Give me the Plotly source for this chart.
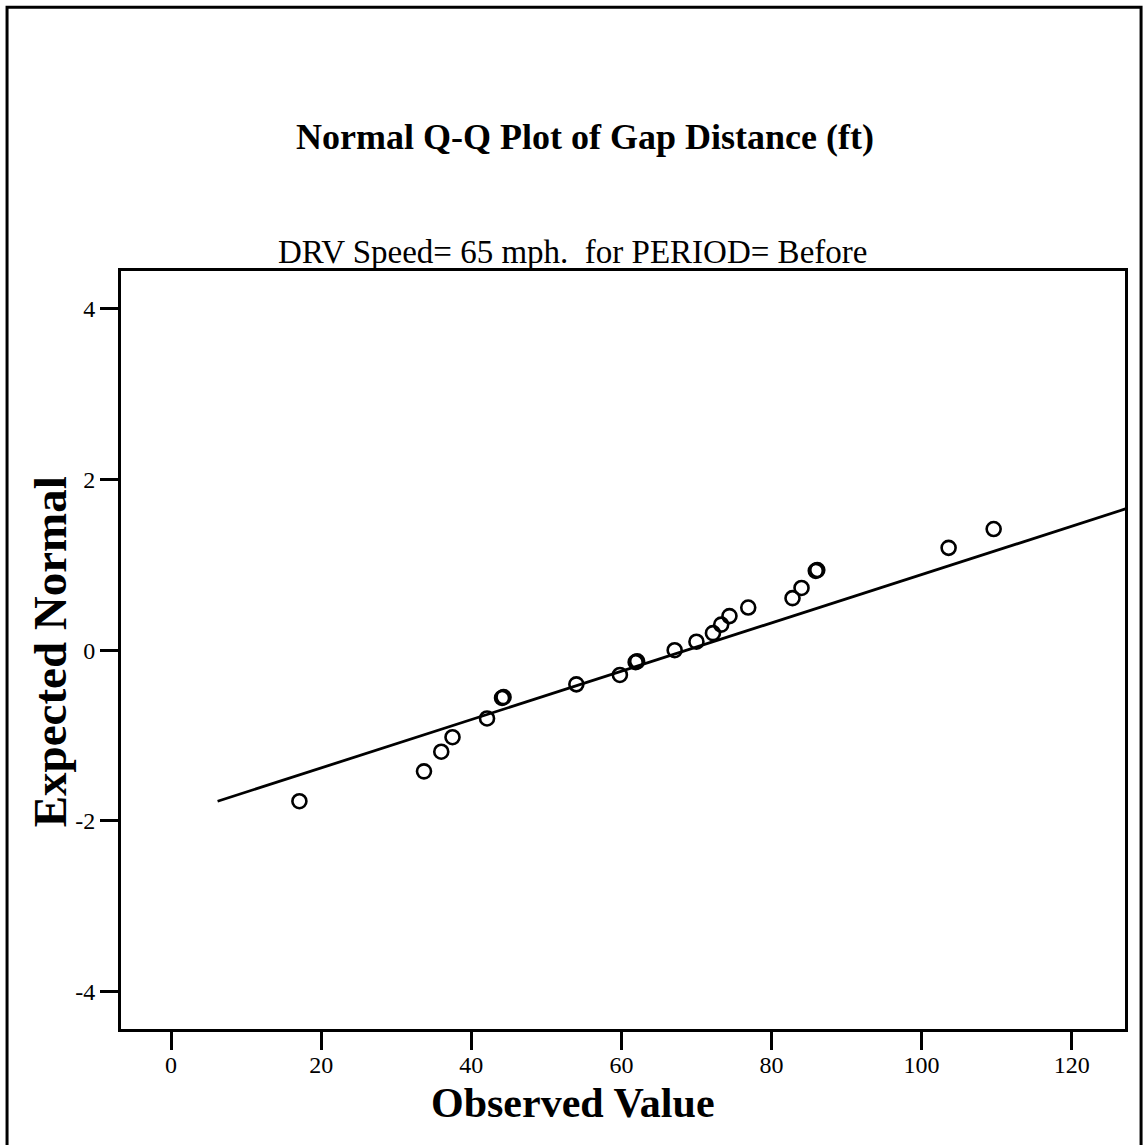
import plotly.graph_objects as go

# Observed gap distances (ft) and their expected normal scores
observed = [17.1, 33.7, 36.0, 37.5, 42.1, 44.1, 44.3, 54.0, 59.8, 61.9, 62.1,
            67.1, 70.0, 72.2, 73.3, 74.4, 76.9, 82.8, 84.0, 85.9, 86.1, 103.6, 109.6]
expected = [-1.77, -1.42, -1.19, -1.02, -0.80, -0.56, -0.55, -0.40, -0.29, -0.14, -0.13,
            0.00, 0.10, 0.20, 0.30, 0.40, 0.50, 0.61, 0.73, 0.93, 0.94, 1.20, 1.42]

# Reference normal line: expected = (x - mean) / sd
line_mean = 68.7
line_sd = 35.3
line_x = [6.2, 127.2]
line_y = [(v - line_mean) / line_sd for v in line_x]

x_ticks = [0, 20, 40, 60, 80, 100, 120]
y_ticks = [-4, -2, 0, 2, 4]
y_tick_labels = ["-4", "-2", "0", "2", "4"]

title_text = "Normal Q-Q Plot of Gap Distance (ft)"
subtitle_text = "DRV Speed= 65 mph.  for PERIOD= Before"

SERIF = "Liberation Serif, Times New Roman, serif"

fig = go.Figure()
fig.add_trace(go.Scatter(
    x=line_x, y=line_y, mode="lines",
    line=dict(color="black", width=2.8),
    hoverinfo="skip", showlegend=False, cliponaxis=False,
))
fig.add_trace(go.Scatter(
    x=observed, y=expected, mode="markers",
    marker=dict(symbol="circle-open", size=14, color="black",
                line=dict(color="black", width=2.6)),
    showlegend=False,
))

axis_common = dict(
    showgrid=False, zeroline=False, showline=True, linecolor="black",
    linewidth=3, mirror=True, ticks="outside", ticklen=18, tickwidth=3,
    tickcolor="black", tickfont=dict(family=SERIF, size=24, color="black"),
)

fig.update_xaxes(range=[-6.67, 127.1], tickvals=x_ticks, ticklabelstandoff=-6,
                 **axis_common)
fig.update_yaxes(range=[-4.44, 4.445], tickvals=y_ticks, ticktext=y_tick_labels,
                 **axis_common)

fig.update_layout(
    width=1143, height=1145,
    margin=dict(l=121, r=18, t=271, b=116),
    paper_bgcolor="white", plot_bgcolor="white",
    annotations=[
        dict(text="<b>" + title_text + "</b>", xref="paper", yref="paper",
             x=0.462, y=1.177, showarrow=False, xanchor="center", yanchor="middle",
             font=dict(family=SERIF, size=36, color="black")),
        dict(text=subtitle_text, xref="paper", yref="paper",
             x=0.450, y=1.025, showarrow=False, xanchor="center", yanchor="middle",
             font=dict(family=SERIF, size=33, color="black")),
        dict(text="<b>Observed Value</b>", xref="paper", yref="paper",
             x=0.450, y=-0.098, showarrow=False, xanchor="center", yanchor="middle",
             font=dict(family=SERIF, size=42, color="black")),
        dict(text="<b>Expected Normal</b>", xref="paper", yref="paper",
             x=-0.0707, y=0.497, showarrow=False, xanchor="center", yanchor="middle",
             textangle=-90, font=dict(family=SERIF, size=47, color="black")),
    ],
    shapes=[
        dict(type="rect", xref="paper", yref="paper",
             x0=-0.1135, x1=1.016, y0=-0.3, y1=1.348,
             line=dict(color="black", width=3), layer="below"),
    ],
)

fig.write_html("out.html")
